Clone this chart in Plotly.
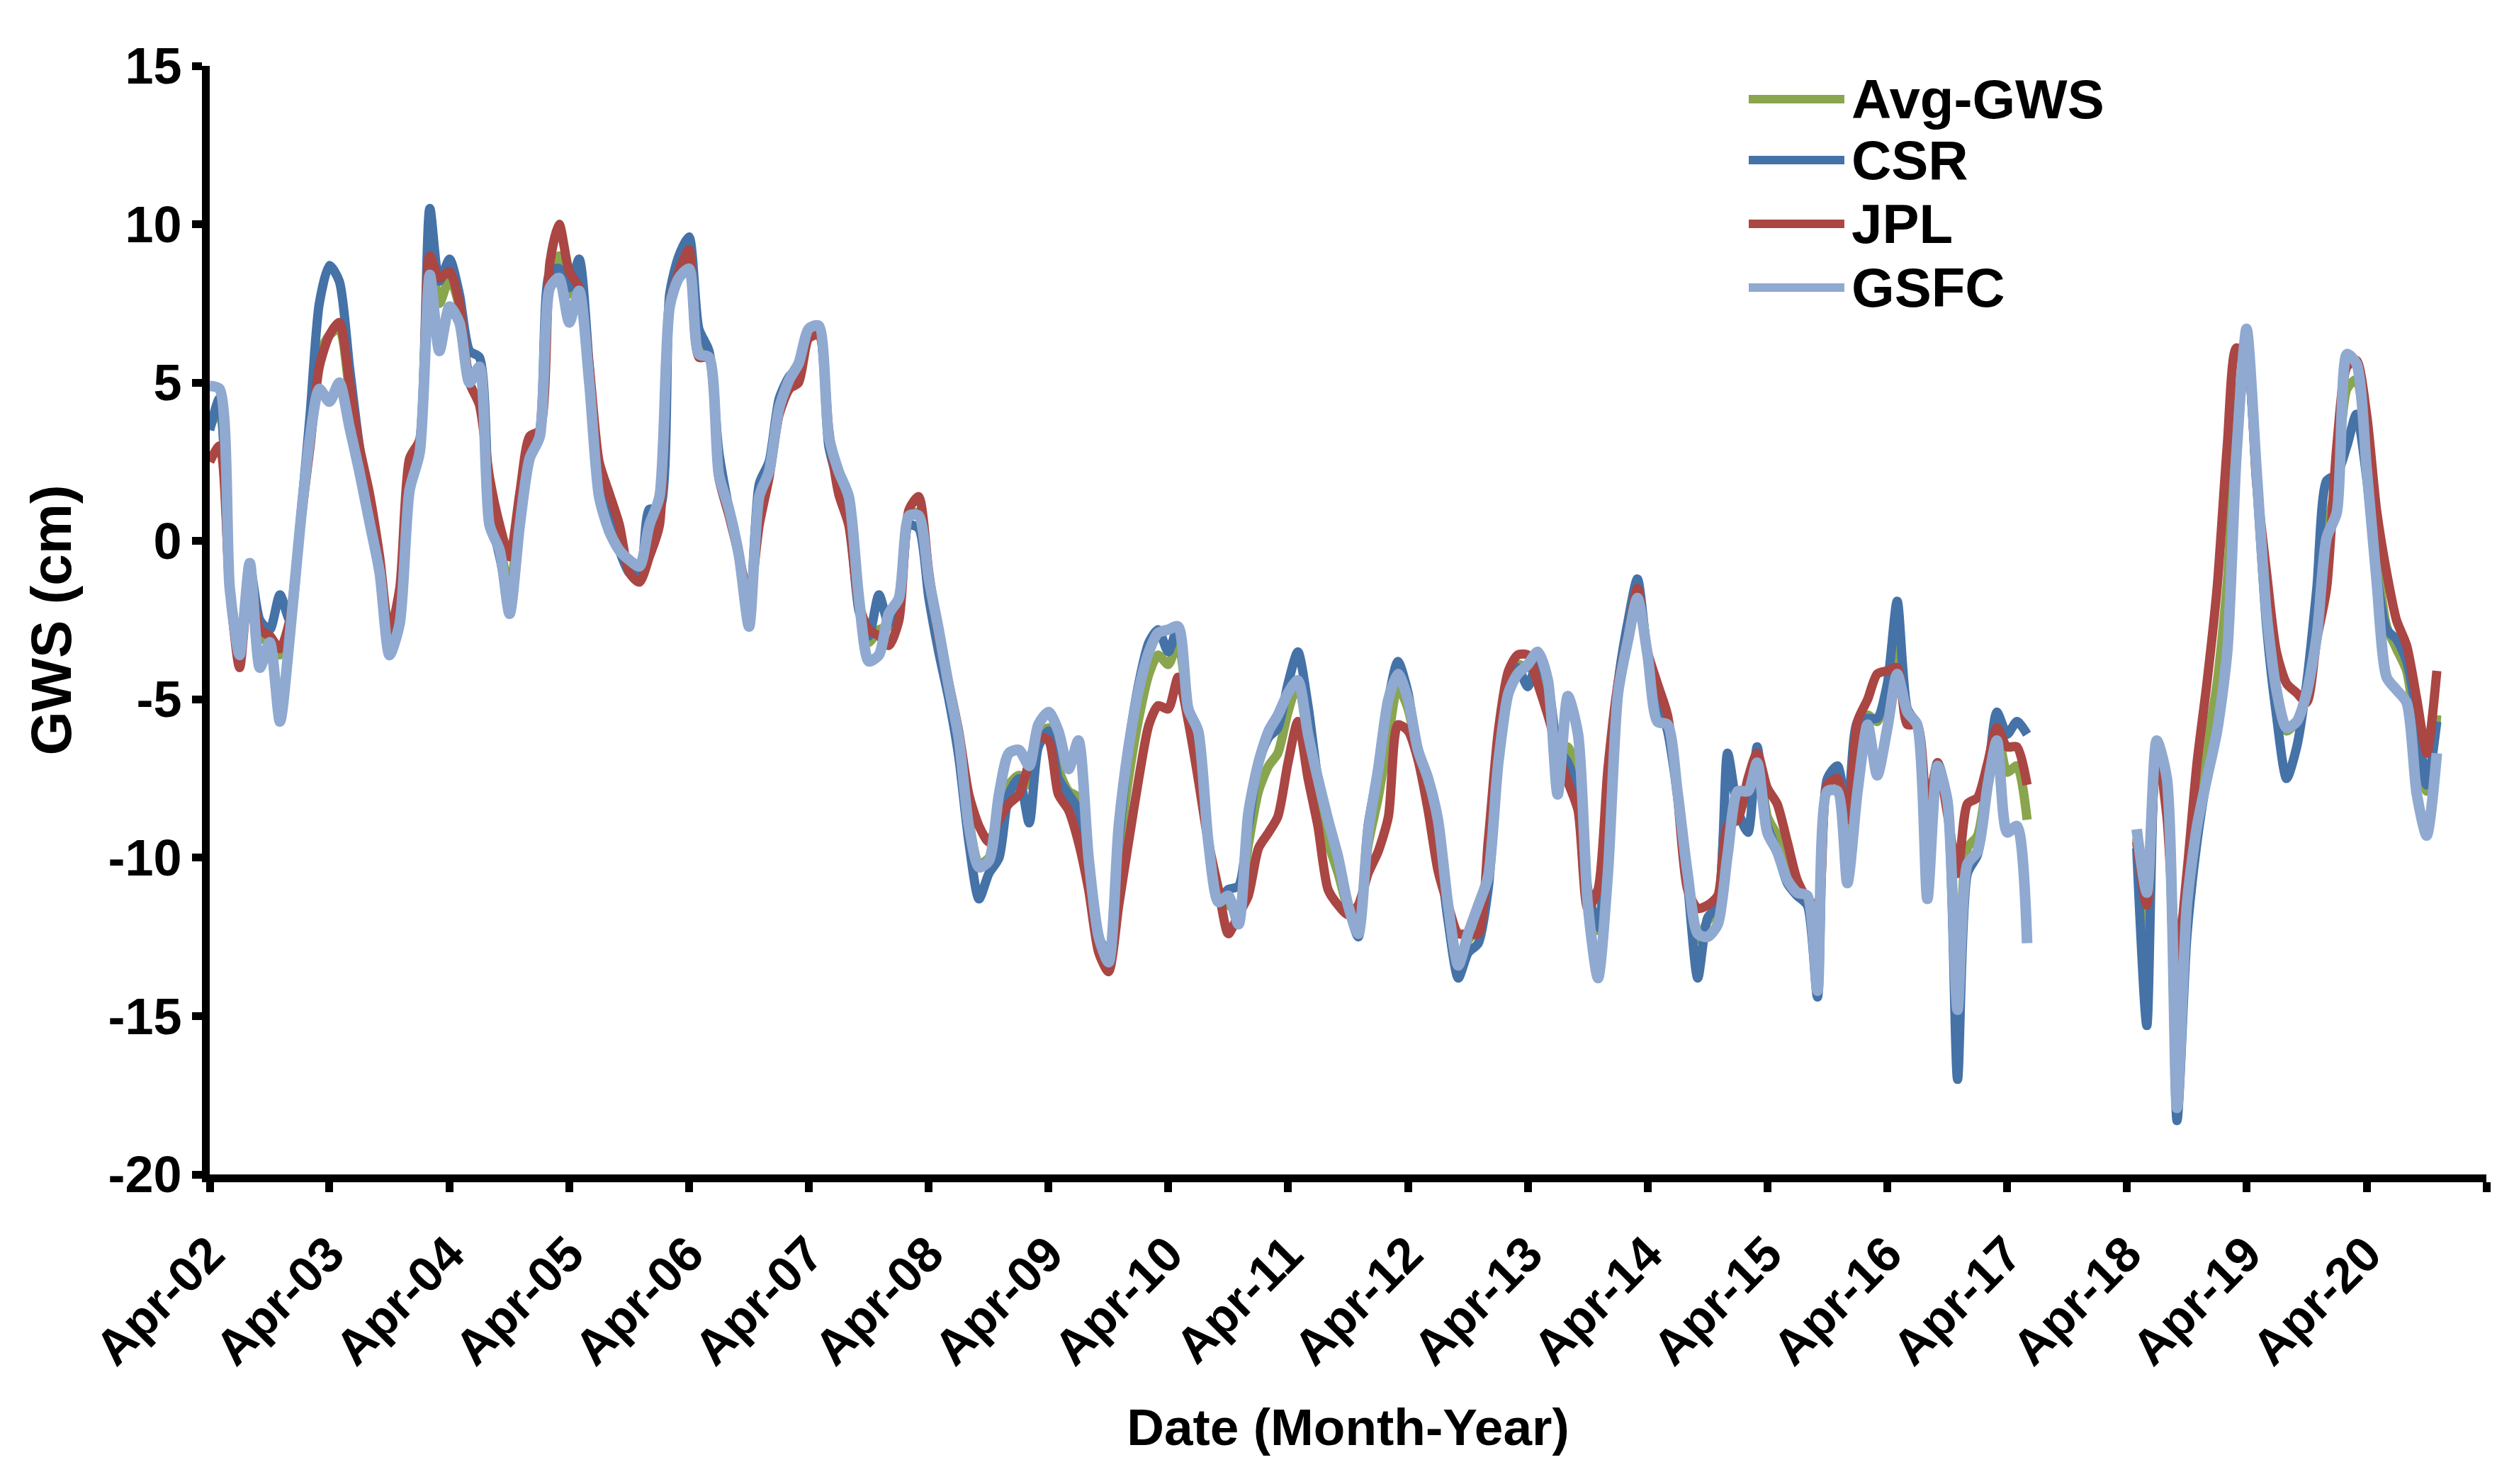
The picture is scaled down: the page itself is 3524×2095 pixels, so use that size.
import pandas as pd
import plotly.graph_objects as go

# ---------------- data (GWS, cm) ----------------
# Segment 1: monthly, Apr-2002 .. Jun-2017 (183 months)
# Segment 2: monthly, May-2018 .. Nov-2020 (31 months)
SEG1_START = "2002-04-01"
SEG1_MONTHS = 183
SEG2_START = "2018-05-01"
SEG2_MONTHS = 31
GAP_DATE = "2017-12-01"

SERIES_NAMES = ["Avg-GWS", "CSR", "JPL", "GSFC"]
SERIES_COLORS = ["#89A54E", "#4572A7", "#AA4643", "#8FA9D0"]

GSFC_1 = [4.9, 4.8, -1.5, -3.6, -0.7, -4.0, -3.2, -5.7, -3.0, 0.4,
          3.3, 4.8, 4.4, 5.0, 3.6, 2.2, 0.6, -1.0, -3.6, -2.6,
          1.6, 2.8, 8.4, 6.0, 7.4, 6.9, 5.0, 5.5, 0.5, -0.3,
          -2.3, 0.5, 2.6, 3.3, 8.0, 8.3, 6.9, 7.9, 5.0, 1.4,
          0.3, -0.3, -0.6, -0.8, 0.5, 1.4, 7.4, 8.3, 8.6, 5.9,
          5.8, 2.1, 1.0, -0.5, -2.7, 1.4, 2.2, 4.2, 5.1, 5.6,
          6.7, 6.8, 3.3, 2.2, 1.4, -1.8, -3.8, -3.6, -2.3, -1.8,
          0.8, 0.8, -1.2, -2.8, -4.6, -6.2, -9.0, -10.3, -10.1, -8.0,
          -6.7, -6.6, -7.1, -5.8, -5.4, -6.0, -7.2, -6.3, -10.0, -12.5,
          -13.3, -9.0, -6.5, -4.7, -3.5, -2.9, -2.8, -2.7, -5.3, -6.0,
          -9.5, -11.4, -11.2, -12.1, -8.6, -7.0, -6.0, -5.5, -4.8, -4.4,
          -6.1, -7.5, -8.8, -10.0, -11.5, -12.4, -9.2, -7.2, -5.0, -4.2,
          -5.0, -6.6, -7.5, -8.8, -11.5, -13.4, -12.4, -11.5, -10.6, -7.0,
          -4.8, -4.2, -3.9, -3.5, -4.4, -8.0, -4.9, -6.1, -11.5, -13.8,
          -10.5, -4.8, -3.1, -1.8, -3.6, -5.7, -5.8, -7.9, -10.5, -12.4,
          -12.5, -12.1, -9.9, -7.9, -7.9, -7.0, -9.2, -9.8, -10.7, -11.1,
          -11.2, -14.2, -7.9, -7.9, -10.8, -7.9, -5.8, -7.4, -5.9, -4.2,
          -5.4, -5.8, -11.3, -7.1, -8.2, -14.8, -10.2, -9.8, -7.7, -6.3,
          -9.2, -9.0, -12.7]
GSFC_2 = [-9.1, -11.1, -6.3, -7.5, -17.9, -11.5, -9.0, -7.5, -6.0, -3.5,
          2.7, 6.7, 2.3, -2.3, -4.7, -5.9, -5.7, -4.8, -3.0, 0.1,
          0.9, 5.9, 5.6, 2.3, -1.2, -4.3, -4.7, -5.1, -8.0, -9.3,
          -6.7]

CSR_1 = [3.5, 4.5, -1.5, -3.4, -0.8, -2.5, -2.8, -1.7, -2.5, 0.5,
         4.0, 7.5, 8.7, 8.2, 5.5, 3.0, 1.0, -1.0, -3.2, -2.0,
         2.0, 3.0, 10.5, 8.2, 8.9, 7.8, 6.0, 5.8, 1.0, -0.5,
         -1.8, 0.5, 2.8, 3.5, 8.5, 8.6, 8.0, 8.9, 5.5, 1.8,
         0.8, -0.3, -1.0, -1.1, 1.0, 1.0, 7.8, 9.0, 9.6, 6.7,
         6.0, 2.8, 1.0, -0.5, -2.5, 1.8, 2.5, 4.5, 5.2, 5.5,
         6.5, 6.7, 3.0, 1.8, 0.8, -2.2, -3.0, -1.7, -2.6, -2.0,
         0.5, 0.4, -1.8, -3.5, -5.0, -6.8, -9.5, -11.3, -10.5, -10.0,
         -8.0, -7.5, -8.9, -6.5, -6.0, -7.5, -8.0, -8.5, -10.5, -12.5,
         -13.0, -9.5, -6.5, -4.5, -3.2, -2.8, -3.5, -2.7, -5.3, -6.5,
         -9.5, -11.3, -11.0, -10.9, -9.0, -7.0, -6.2, -5.9, -4.5, -3.5,
         -5.2, -7.5, -8.8, -10.0, -11.5, -12.5, -9.0, -7.2, -5.0, -3.8,
         -4.8, -6.8, -7.8, -9.5, -12.0, -13.8, -13.0, -12.7, -11.0, -7.0,
         -4.5, -4.0, -4.6, -3.8, -4.5, -6.5, -7.0, -8.0, -11.0, -12.2,
         -9.0, -4.5, -2.5, -1.2, -3.6, -5.0, -6.0, -8.0, -10.8, -13.8,
         -11.9, -11.5, -6.7, -8.5, -9.2, -6.5, -9.0, -9.8, -10.8, -11.2,
         -11.5, -14.4, -7.5, -7.1, -8.6, -5.7, -5.6, -5.6, -4.5, -1.9,
         -5.3, -5.8, -8.5, -7.0, -8.2, -17.0, -10.5, -9.9, -7.5, -5.4,
         -6.1, -5.7, -6.1]
CSR_2 = [-9.7, -15.3, -6.5, -7.7, -18.3, -12.5, -9.5, -7.5, -6.0, -3.5,
         2.7, 6.3, 2.0, -2.7, -5.5, -7.5, -6.5, -4.5, -1.5, 1.9,
         2.1, 3.0, 4.0, 2.0, -1.0, -2.8, -3.1, -3.8, -5.5, -7.7,
         -5.7]

JPL_1 = [2.5, 3.0, -1.5, -4.0, -1.1, -2.8, -3.0, -3.4, -2.5, 0.4,
         3.0, 5.5, 6.5, 6.9, 5.0, 3.0, 1.5, -0.5, -2.9, -1.5,
         2.6, 3.2, 9.0, 8.3, 8.5, 7.5, 5.0, 4.3, 2.0, 0.5,
         -0.5, 1.5, 3.3, 3.5, 8.8, 10.0, 8.5, 8.0, 5.5, 2.5,
         1.5, 0.5, -1.0, -1.3, -0.5, 0.5, 7.5, 8.5, 9.2, 5.8,
         5.8, 2.0, 0.8, -0.5, -1.8, 0.5, 2.0, 4.0, 4.8, 5.0,
         6.4, 6.5, 3.5, 1.5, 0.5, -2.0, -2.8, -3.0, -3.3, -2.5,
         1.0, 1.4, -1.0, -3.0, -4.5, -6.0, -8.0, -9.0, -9.5, -8.8,
         -8.3, -8.0, -7.0, -6.2, -6.3, -8.0, -8.5, -9.5, -11.0, -13.0,
         -13.6, -11.5, -9.5, -7.5, -5.8, -5.2, -5.3, -4.3, -5.7, -7.5,
         -9.5, -11.0, -12.4, -11.8, -11.2, -9.7, -9.2, -8.7, -7.0, -5.7,
         -7.5, -9.0, -11.0, -11.5, -11.8, -11.5, -10.5, -9.8, -8.7, -5.8,
         -6.0, -6.9, -8.5, -10.4, -11.5, -12.4, -12.4, -12.4, -9.5, -6.0,
         -4.1, -3.6, -3.6, -4.5, -5.5, -6.6, -7.6, -8.5, -11.6, -11.0,
         -7.2, -4.5, -3.0, -1.5, -3.5, -4.5, -5.5, -8.0, -11.0, -11.6,
         -11.5, -11.2, -9.0, -8.8, -7.5, -6.7, -7.8, -8.3, -9.5, -10.7,
         -11.3, -11.5, -7.7, -7.5, -8.8, -5.7, -5.0, -4.2, -4.1, -4.0,
         -5.8, -5.8, -8.6, -7.0, -8.6, -10.5, -8.3, -8.1, -7.0, -5.9,
         -6.5, -6.5, -7.7]
JPL_2 = [-9.5, -11.5, -6.5, -8.7, -13.3, -10.5, -7.0, -4.5, -1.5, 3.0,
         6.1, 5.8, 1.9, -1.0, -3.5, -4.5, -4.8, -5.1, -3.1, -1.5,
         3.0, 5.5, 5.7, 4.0, 1.0, -1.0, -2.5, -3.3, -5.0, -6.7,
         -4.1]

AVG_1 = [3.6, 4.1, -1.5, -3.7, -0.9, -3.1, -3.0, -3.6, -2.7, 0.4,
         3.4, 5.9, 6.5, 6.7, 4.7, 2.7, 1.0, -0.8, -3.2, -2.0,
         2.1, 3.0, 9.3, 7.5, 8.3, 7.4, 5.3, 5.2, 1.2, -0.1,
         -1.5, 0.8, 2.9, 3.4, 8.4, 9.0, 7.8, 8.3, 5.3, 1.9,
         0.9, 0.0, -0.9, -1.1, 0.3, 1.0, 7.6, 8.6, 9.1, 6.1,
         5.9, 2.3, 0.9, -0.5, -2.3, 1.2, 2.2, 4.2, 5.0, 5.4,
         6.5, 6.7, 3.3, 1.8, 0.9, -2.0, -3.2, -2.8, -2.7, -2.1,
         0.8, 0.9, -1.3, -3.1, -4.7, -6.3, -8.8, -10.2, -10.0, -8.9,
         -7.7, -7.4, -7.7, -6.2, -5.9, -7.2, -7.9, -8.1, -10.5, -12.7,
         -13.3, -10.0, -7.5, -5.6, -4.2, -3.6, -3.9, -3.2, -5.4, -6.7,
         -9.5, -11.2, -11.5, -11.6, -9.6, -7.9, -7.1, -6.7, -5.4, -4.5,
         -6.3, -8.0, -9.5, -10.5, -11.6, -12.1, -9.6, -8.1, -6.2, -4.6,
         -5.3, -6.8, -7.9, -9.6, -11.7, -13.2, -12.6, -12.2, -10.4, -6.7,
         -4.5, -3.9, -4.0, -3.9, -4.8, -7.0, -6.5, -7.5, -11.4, -12.3,
         -8.9, -4.6, -2.9, -1.5, -3.6, -5.1, -5.8, -8.0, -10.8, -12.6,
         -12.0, -11.6, -8.5, -8.4, -8.2, -6.7, -8.7, -9.3, -10.3, -11.0,
         -11.3, -13.4, -7.7, -7.5, -9.4, -6.4, -5.5, -5.7, -4.8, -3.4,
         -5.5, -5.8, -9.5, -7.0, -8.3, -14.1, -9.7, -9.3, -7.4, -5.9,
         -7.3, -7.1, -8.8]
AVG_2 = [-9.4, -12.6, -6.4, -8.0, -16.5, -11.5, -8.5, -6.5, -4.5, -1.3,
         3.8, 6.3, 2.1, -2.0, -4.6, -6.0, -5.7, -4.8, -2.5, 0.2,
         2.0, 4.8, 5.1, 2.8, -0.4, -2.7, -3.4, -4.1, -6.2, -7.9,
         -5.5]

SERIES_1 = [AVG_1, CSR_1, JPL_1, GSFC_1]
SERIES_2 = [AVG_2, CSR_2, JPL_2, GSFC_2]
SERIES_WIDTHS = [13, 13, 13, 15]

Y_TICKS = [-20, -15, -10, -5, 0, 5, 10, 15]
Y_TICK_LABELS = ["-20", "-15", "-10", "-5", "0", "5", "10", "15"]

# ---------------- figure ----------------
dates1 = list(pd.date_range(SEG1_START, periods=SEG1_MONTHS, freq="MS"))
dates2 = list(pd.date_range(SEG2_START, periods=SEG2_MONTHS, freq="MS"))
x_all = dates1 + [pd.Timestamp(GAP_DATE)] + dates2

FONT = "Liberation Sans"
fig = go.Figure()
for name, color, w, s1, s2 in zip(SERIES_NAMES, SERIES_COLORS, SERIES_WIDTHS,
                                  SERIES_1, SERIES_2):
    fig.add_trace(go.Scatter(
        x=x_all, y=list(s1) + [None] + list(s2), name=name, mode="lines",
        line=dict(color=color, width=w, shape="spline", smoothing=0.7),
        connectgaps=False, showlegend=False))

# legend drawn as line samples + text
LEG_X0, LEG_X1, LEG_TX = 0.676, 0.718, 0.7205
LEG_Y = [0.970, 0.915, 0.8575, 0.800]
for name, color, ly in zip(SERIES_NAMES, SERIES_COLORS, LEG_Y):
    fig.add_shape(type="line", xref="paper", yref="paper",
                  x0=LEG_X0, x1=LEG_X1, y0=ly, y1=ly,
                  line=dict(color=color, width=12))
    fig.add_annotation(xref="paper", yref="paper", x=LEG_TX, y=ly,
                       xanchor="left", yanchor="middle", showarrow=False,
                       text="<b>%s</b>" % name,
                       font=dict(family=FONT, size=78, color="black"))

axis_common = dict(showline=True, linecolor="black", linewidth=11,
                   ticks="outside", ticklen=14, tickwidth=11,
                   tickcolor="black", showgrid=False, zeroline=False)

fig.update_xaxes(type="date", range=["2002-04-01", "2021-04-01"],
                 tick0="2002-04-01", dtick="M12", tickformat="%b-%y",
                 tickangle=-45, ticklabelstandoff=18,
                 tickfont=dict(family=FONT, size=70, color="black",
                               weight="bold"),
                 title=dict(text="<b>Date (Month-Year)</b>", standoff=52,
                            font=dict(family=FONT, size=73, color="black")),
                 **axis_common)
fig.update_yaxes(range=[-20, 15], tickvals=Y_TICKS, ticktext=Y_TICK_LABELS,
                 tickfont=dict(family=FONT, size=72, color="black",
                               weight="bold"),
                 title=dict(text="<b>GWS (cm)</b>", standoff=30,
                            font=dict(family=FONT, size=80, color="black")),
                 **axis_common)

fig.update_layout(width=3524, height=2095,
                  margin=dict(l=288, r=23, t=85, b=445, autoexpand=False),
                  plot_bgcolor="white", paper_bgcolor="white",
                  showlegend=False)

fig.write_html("out.html")
